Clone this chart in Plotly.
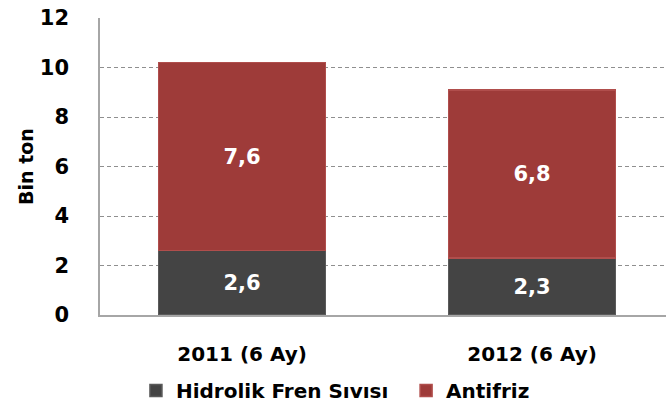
import plotly.graph_objects as go

categories = ["2011 (6 Ay)", "2012 (6 Ay)"]
hidrolik = [2.6, 2.3]
antifriz = [7.6, 6.8]
y_ticks = [0, 2, 4, 6, 8, 10, 12]

def tr(v):
    return f"{v:.1f}".replace(".", ",")

def b(s):
    return f"<b>{s}</b>"

font_family = "'DejaVu Sans', sans-serif"

fig = go.Figure()
fig.add_trace(go.Bar(
    name=b("Hidrolik Fren Sıvısı") + "\u00a0\u00a0", x=[0, 1], y=hidrolik,
    marker=dict(color="#444444", line=dict(color="#5a5a5a", width=1.5)),
    width=0.575, text=[b(tr(v)) for v in hidrolik], textposition="inside",
    insidetextanchor="middle",
    textfont=dict(color="white", size=21, family=font_family),
))
fig.add_trace(go.Bar(
    name=b("Antifriz"), x=[0, 1], y=antifriz,
    marker=dict(color="#9e3b39", line=dict(color="#b04e4c", width=1.5)),
    width=0.575, text=[b(tr(v)) for v in antifriz], textposition="inside",
    insidetextanchor="middle",
    textfont=dict(color="white", size=21, family=font_family),
))

fig.update_layout(
    barmode="stack",
    width=666, height=410,
    margin=dict(l=100, r=0, t=18, b=93),
    paper_bgcolor="white", plot_bgcolor="white",
    font=dict(family=font_family, color="black"),
    uniformtext=dict(mode=False),
    legend=dict(
        orientation="h", x=0.416, xanchor="center", y=-0.19, yanchor="top",
        font=dict(size=20, family=font_family),
        traceorder="normal", itemwidth=30,
    ),
    showlegend=True,
)
fig.update_xaxes(
    tickvals=[0, 1], ticktext=[b(c) for c in categories], range=[-0.49, 1.462],
    showgrid=False, showline=True, linecolor="#a6a6a6", linewidth=1.5,
    tickfont=dict(size=20, family=font_family),
    ticks="", ticklabelstandoff=20, zeroline=False, automargin=False,
)
fig.update_yaxes(
    range=[0, 12], tickvals=y_ticks, ticktext=[b(v) for v in y_ticks],
    showgrid=True, gridcolor="#8f8f8f", griddash="4px,3px", gridwidth=1,
    showline=True, linecolor="#a6a6a6", linewidth=1.5,
    tickfont=dict(size=21, family=font_family),
    ticks="", ticklabelstandoff=25, zeroline=False, automargin=False,
    title=dict(text=b("Bin ton"), font=dict(size=19, family=font_family), standoff=1),
)

fig.write_html("out.html")
